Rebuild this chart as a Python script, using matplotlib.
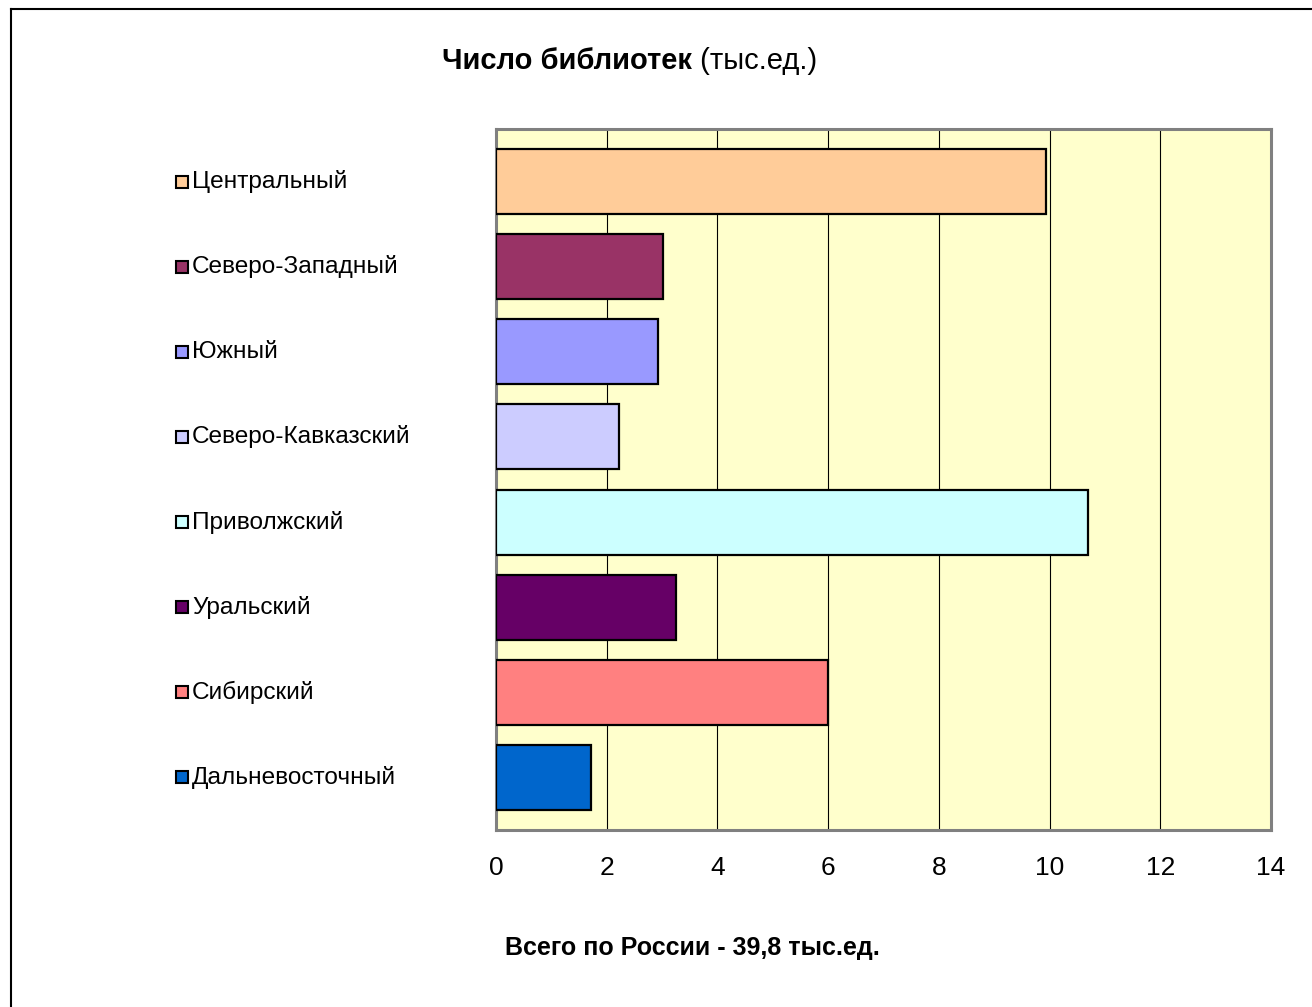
import matplotlib.pyplot as plt
from matplotlib.lines import Line2D
from matplotlib.transforms import blended_transform_factory

plt.rcParams['font.family'] = ['Liberation Sans', 'DejaVu Sans']

# данные по федеральным округам
regions = ['Центральный', 'Северо-Западный', 'Южный', 'Северо-Кавказский',
           'Приволжский', 'Уральский', 'Сибирский', 'Дальневосточный']
libraries = [9.93, 3.02, 2.93, 2.22, 10.7, 3.25, 6.0, 1.72]
colors = ['#FFCC99', '#993366', '#9999FF', '#CCCCFF',
          '#CCFFFF', '#660066', '#FF8080', '#0066CC']
xticks = [0, 2, 4, 6, 8, 10, 12, 14]

W, H = 1312, 1007
fig = plt.figure(figsize=(W / 100, H / 100), dpi=100)
ax = fig.add_axes([496 / W, 1 - 830 / H, (1271 - 496) / W, (830 - 129) / H])
ax.set_facecolor('#FFFFCC')

pos = list(range(len(regions)))
ax.barh(pos, libraries, height=0.764, color=colors, edgecolor='black',
        linewidth=1.6, zorder=3)
ax.set_ylim(len(regions) - 1 + 0.617, -0.617)
ax.set_xlim(0, 14)
ax.set_xticks(xticks)
ax.set_xticklabels([str(t) for t in xticks], fontsize=19)
ax.tick_params(axis='x', length=0, pad=19)
ax.set_yticks([])
ax.grid(axis='x', color='black', linewidth=0.8, zorder=1)
for s in ax.spines.values():
    s.set_color('#808080')
    s.set_linewidth(2.2)

# подписи округов слева (как легенда)
tr = blended_transform_factory(fig.transFigure, ax.transData)
for i, name in enumerate(regions):
    ax.plot([182 / W], [i], marker='s', markersize=9, markerfacecolor=colors[i],
            markeredgecolor='black', markeredgewidth=1.5, transform=tr,
            clip_on=False, linestyle='none')
    ax.text(192 / W, i, name, transform=tr, fontsize=17.6, va='center', ha='left')

# заголовок
t1 = fig.text(442 / W, 1 - 61 / H, 'Число библиотек', fontsize=21,
              fontweight='bold', va='center', ha='left')
fig.canvas.draw()
ax.annotate(' (тыс.ед.)', xy=(1, 0), xycoords=t1, fontsize=21,
            va='bottom', ha='left')

fig.text(692 / W, 1 - 948 / H, 'Всего по России - 39,8 тыс.ед.', fontsize=18,
         fontweight='bold', ha='center', va='center')

# рамка диаграммы
fig.add_artist(Line2D([11 / W, 11 / W], [0, 1 - 9 / H], color='black', linewidth=1.5))
fig.add_artist(Line2D([11 / W, 1], [1 - 9 / H, 1 - 9 / H], color='black', linewidth=1.5))

plt.savefig('out.png', dpi=100)
